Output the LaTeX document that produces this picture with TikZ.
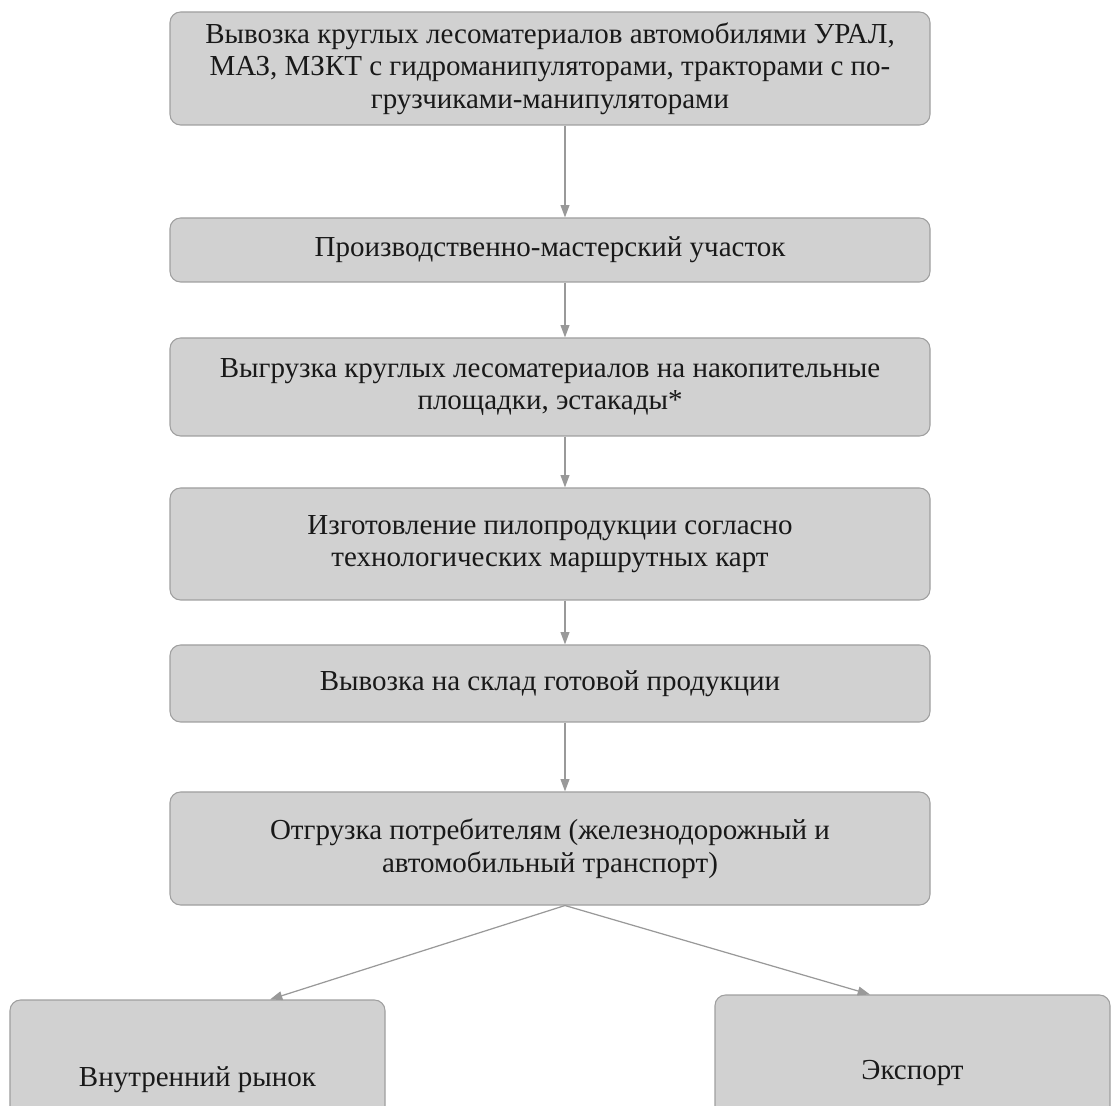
\documentclass[tikz,border=0pt]{standalone}
\usepackage{fontspec}
\setmainfont{Liberation Serif}
\usetikzlibrary{arrows.meta}

\begin{document}
\begin{tikzpicture}[
                box/.style={draw=gray!75, fill=gray!36, rounded corners=6pt, line width=0.6pt,
                            align=center, text=black!90, font=\fontsize{16.5}{18.5}\selectfont, inner sep=0pt},
                arr/.style={draw=gray!80, line width=0.7pt, -{Triangle[length=7pt, width=5pt]}},
            ]
            % Page frame (reference proportions)
            \useasboundingbox (0,0) rectangle (22.3,-22.12);

            % Main chain of steps
            \node[box, minimum width=15.2cm, minimum height=2.26cm] (haul) at (11,-1.37)
                {Вывозка круглых лесоматериалов автомобилями УРАЛ,\\
                 МАЗ, МЗКТ с гидроманипуляторами, тракторами с по-\\
                 грузчиками-манипуляторами};
            \node[box, minimum width=15.2cm, minimum height=1.28cm] (site) at (11,-5.0)
                {Производственно-мастерский участок};
            \node[box, minimum width=15.2cm, minimum height=1.96cm] (unload) at (11,-7.74)
                {Выгрузка круглых лесоматериалов на накопительные\\
                 площадки, эстакады*};
            \node[box, minimum width=15.2cm, minimum height=2.24cm] (make) at (11,-10.88)
                {Изготовление пилопродукции согласно\\
                 технологических маршрутных карт};
            \node[box, minimum width=15.2cm, minimum height=1.54cm] (store) at (11,-13.67)
                {Вывозка на склад готовой продукции};
            \node[box, minimum width=15.2cm, minimum height=2.26cm] (ship) at (11,-16.97)
                {Отгрузка потребителям (железнодорожный и\\
                 автомобильный транспорт)};

            % Two markets (cut off by the page edge)
            \node[box, minimum width=7.5cm, minimum height=3.2cm] (home) at (3.95,-21.6)
                {Внутренний рынок};
            \node[box, minimum width=7.9cm, minimum height=3.1cm] (export) at (18.25,-21.45)
                {Экспорт};

            % Arrows down the chain
            \draw[arr] ([xshift=3mm]haul.south) -- ([xshift=3mm]site.north);
            \draw[arr] ([xshift=3mm]site.south) -- ([xshift=3mm]unload.north);
            \draw[arr] ([xshift=3mm]unload.south) -- ([xshift=3mm]make.north);
            \draw[arr] ([xshift=3mm]make.south) -- ([xshift=3mm]store.north);
            \draw[arr] ([xshift=3mm]store.south) -- ([xshift=3mm]ship.north);

            % Branching to the markets
            \draw[arr] ([xshift=3mm]ship.south) -- ([xshift=14.5mm]home.north);
            \draw[arr] ([xshift=3mm]ship.south) -- ([xshift=-8.5mm]export.north);

        \end{tikzpicture}
\end{document}
